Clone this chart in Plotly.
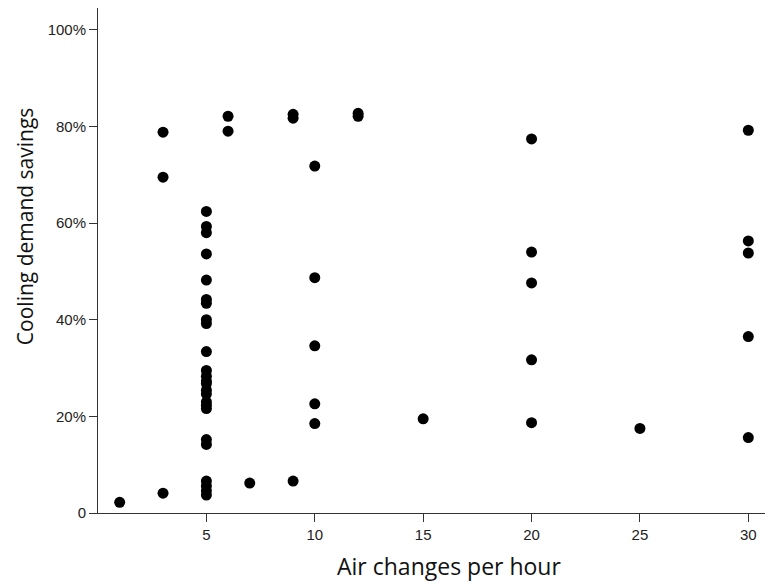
import plotly.graph_objects as go

ach = [1, 3, 3, 3,
       5, 5, 5, 5, 5, 5, 5, 5, 5, 5, 5, 5, 5, 5, 5, 5, 5, 5, 5, 5, 5, 5, 5, 5, 5,
       6, 6, 7, 9, 9, 9,
       10, 10, 10, 10, 10,
       12, 12, 15,
       20, 20, 20, 20, 20,
       25,
       30, 30, 30, 30, 30]
savings = [2.2, 4.1, 69.5, 78.8,
           62.4, 59.3, 58.0, 53.6, 48.2, 44.2, 43.4, 40.0, 39.2, 33.4,
           29.5, 28.3, 26.8, 25.4, 23.0, 21.6, 15.2, 14.2, 6.6, 5.6, 4.6, 3.7,
           27.3, 24.6, 22.3,
           82.1, 79.0, 6.2, 6.6, 82.5, 81.7,
           71.8, 48.7, 34.6, 22.6, 18.5,
           82.7, 82.1, 19.5,
           77.4, 54.0, 47.6, 31.7, 18.7,
           17.5,
           79.2, 56.3, 53.8, 36.5, 15.6]

y_ticks = [0, 20, 40, 60, 80, 100]
y_ticktext = ["0", "20%", "40%", "60%", "80%", "100%"]
x_ticks = [5, 10, 15, 20, 25, 30]
x_title = "Air changes per hour"
y_title = "Cooling demand savings"

fig = go.Figure(go.Scatter(
    x=ach, y=savings, mode="markers",
    marker=dict(color="#000000", size=11, line=dict(width=0)),
))

title_font = dict(size=22, family="Open Sans, Liberation Sans, sans-serif", color="#111111")

fig.update_layout(
    width=765, height=578,
    margin=dict(l=90, r=3, t=0, b=73),
    paper_bgcolor="white", plot_bgcolor="white",
    showlegend=False,
    font=dict(family="Liberation Sans, Arial, sans-serif", color="#222222"),
    xaxis=dict(
        range=[0, 31], tickvals=x_ticks, showgrid=False, zeroline=False,
        showline=True, linecolor="#333333", linewidth=1,
        ticks="outside", ticklen=8, tickcolor="#333333",
        tickfont=dict(size=15),
    ),
    yaxis=dict(
        range=[0, 104.5], tickvals=y_ticks, ticktext=y_ticktext,
        showgrid=False, zeroline=False,
        showline=True, linecolor="#333333", linewidth=1,
        ticks="outside", ticklen=8, tickcolor="#333333",
        tickfont=dict(size=15),
    ),
    annotations=[
        dict(text=x_title, xref="paper", yref="paper", x=0.522, y=0,
             xanchor="center", yanchor="middle", yshift=-53,
             showarrow=False, font=dict(title_font, size=23)),
        dict(text=y_title, xref="paper", yref="paper", x=0, y=0.568,
             xanchor="center", yanchor="middle", xshift=-73, textangle=-90,
             showarrow=False, font=dict(title_font, size=21)),
    ],
)

fig.write_html("out.html")
